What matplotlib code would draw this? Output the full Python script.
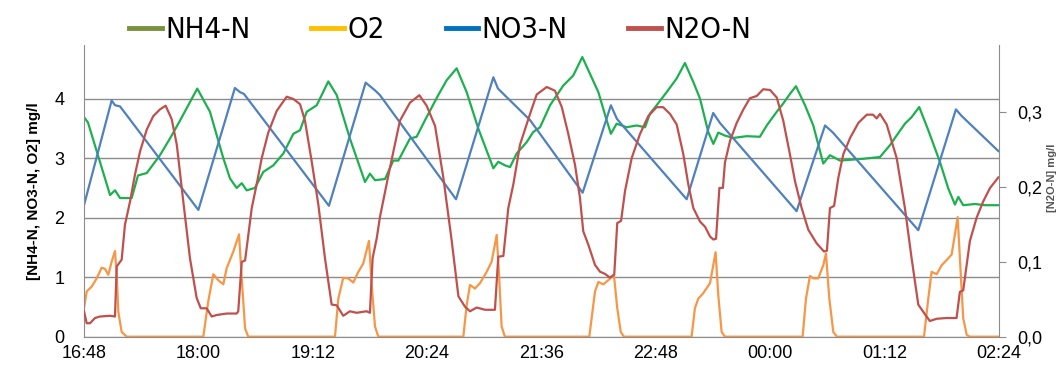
import matplotlib.pyplot as plt
from matplotlib.lines import Line2D
from matplotlib.ticker import FixedLocator

# time axis: minutes after 16:48
tick_minutes = [0, 72, 144, 216, 288, 360, 432, 504, 576]
tick_labels = ["16:48", "18:00", "19:12", "20:24", "21:36", "22:48", "00:00", "01:12", "02:24"]

# NO3-N [mg/l]
no3_t = [0, 17.4, 19.5, 22.7, 72, 95, 98.2, 100.7, 154.2, 177.3, 183.2, 186.3, 234.2, 257.7, 260.6,
         280.8, 313.9, 331.7, 335.5, 341.6, 379.4, 396.1, 400.4, 448.6, 466.5, 471.5, 525.2, 548.9,
         552.5, 575.6]
no3 = [2.21, 3.97, 3.89, 3.87, 2.13, 4.18, 4.11, 4.08, 2.20, 4.27, 4.14, 4.06, 2.31, 4.36, 4.17,
       3.64, 2.42, 3.89, 3.66, 3.47, 2.31, 3.76, 3.59, 2.11, 3.55, 3.43, 1.79, 3.82,
       3.71, 3.12]

# NH4-N [mg/l]
nh4_t = [0, 2.5, 16.4, 19.5, 22.7, 30, 34, 39.5, 47.8, 54.1, 60.4, 71.3, 79.3, 87.7, 91.9, 96.1,
         99.3, 102.4, 107.6, 112.9, 119.2, 125.5, 131.8, 136, 140.2, 146.5, 153.8, 159.1, 167.4,
         176.9, 180, 183.2, 189.5, 194.7, 197.9, 205.2, 209.4, 214.7, 223, 228.3, 234.6, 240.9,
         248.2, 257.7, 260.8, 265, 268.2, 272.4, 278.7, 282.8, 287.1, 293.4, 301.7, 308, 313.7,
         318.5, 323.8, 329, 331.7, 335.3, 341.6, 347.9, 353.2, 356.3, 360.5, 366.8, 373.1, 378.3,
         383.6, 387.8, 393, 396.2, 399.3, 403.5, 408.7, 417.2, 425.5, 429.8, 436.1, 440.2, 444.4,
         448.2, 453.9, 459.1, 465.4, 469.6, 475.9, 490.6, 501.1, 507.4, 510.5, 516.8, 521, 525.8,
         531.5, 538.8, 544.1, 548.3, 550.4, 553.5, 560.9, 567.2, 575.6]
nh4 = [3.69, 3.60, 2.38, 2.46, 2.33, 2.33, 2.71, 2.75, 3.05, 3.33, 3.63, 4.17, 3.78, 3.00, 2.66, 2.50,
       2.58, 2.46, 2.50, 2.77, 2.88, 3.08, 3.41, 3.47, 3.78, 3.89, 4.29, 4.06, 3.33,
       2.60, 2.74, 2.63, 2.65, 2.96, 2.96, 3.33, 3.36, 3.64, 4.06, 4.31, 4.51, 4.11,
       3.50, 2.83, 2.94, 2.88, 2.85, 3.08, 3.27, 3.44, 3.52, 3.89, 4.22, 4.39, 4.70,
       4.42, 4.11, 3.64, 3.41, 3.58, 3.52, 3.55, 3.52, 3.75, 3.89, 4.11, 4.34, 4.60,
       4.28, 4.00, 3.44, 3.24, 3.43, 3.38, 3.34, 3.37, 3.36, 3.55, 3.78, 3.92, 4.08,
       4.21, 3.89, 3.55, 2.91, 3.05, 2.96, 2.99, 3.02, 3.22, 3.34, 3.58, 3.69, 3.86,
       3.47, 2.94, 2.49, 2.22, 2.35, 2.21, 2.23, 2.21, 2.21]

# O2 [mg/l]
o2_t = [0, 1.7, 4.8, 8, 11.1, 13.2, 15.3, 17.4, 19.5, 20.6, 21.6, 23.7, 26.9,
        75.1, 78.2, 81.4, 84.5, 87.7, 89.8, 94, 97.6, 99.3, 101.4, 103.4,
        158, 160.1, 163.2, 166.4, 169.5, 172.7, 175.8, 179.4, 181.1, 183.2, 185.3,
        238.8, 240.9, 243, 246.1, 249.3, 253.5, 256.6, 259.8, 261.4, 262.9, 265,
        318.1, 321.7, 323.8, 326.9, 330.1, 333.6, 335.7, 337.9, 339.9,
        382.5, 384.6, 386.7, 389.8, 394.1, 397.6, 399.3, 401.4, 403.5,
        452.4, 454.5, 457, 459.1, 462.2, 465.4, 467.1, 469.2, 471.7, 474,
        528.8, 531.5, 533.6, 536.8, 539.9, 543.1, 546.2, 550, 551.4, 553.5, 555.7, 557.7, 575.6]
o2 = [0.48, 0.76, 0.84, 0.98, 1.16, 1.14, 1.04, 1.26, 1.44, 1.04, 0.42, 0.08, 0,
      0, 0.59, 1.05, 0.95, 0.88, 1.15, 1.43, 1.72, 0.98, 0.14, 0,
      0, 0.64, 0.99, 0.98, 0.91, 1.09, 1.23, 1.61, 0.87, 0.17, 0,
      0, 0.53, 0.87, 0.81, 0.90, 1.09, 1.26, 1.71, 0.98, 0.17, 0,
      0, 0.76, 0.92, 0.88, 0.95, 1.04, 0.48, 0.08, 0,
      0, 0.48, 0.64, 0.73, 0.90, 1.42, 0.70, 0.08, 0,
      0, 0.64, 1.02, 0.98, 0.98, 1.20, 1.40, 0.64, 0.08, 0,
      0, 0.64, 1.09, 1.05, 1.20, 1.29, 1.38, 2.01, 1.32, 0.31, 0.03, 0, 0]

# N2O-N [mg/l], secondary axis
n2o_t = [0, 1.7, 3.8, 6.9, 10.1, 16.4, 19.5, 20.6, 23.7, 25.8, 29, 32.1, 35.3, 39.5, 43.6, 47.8,
         51.4, 55.2, 58.4, 62.5, 66.7, 70.9, 73.5, 77.2, 80.4, 83.5, 89.8, 96.1, 97.1, 99.3,
         101.4, 105.6, 108.7, 111.9, 116, 121.3, 127.6, 131.8, 136, 139.1, 143.3, 147.5, 151.7,
         155.9, 159.1, 163.2, 167.4, 171.6, 177.9, 180, 181.7, 184.3, 186.3, 192.6, 198.9, 205.2,
         211.1, 215.7, 221, 226.2, 231.5, 235.7, 239.9, 243, 247.2, 252.5, 258.7, 260.8, 264,
         267.1, 270.3, 274.5, 280.8, 285, 291.3, 296.5, 300.8, 304.9, 309.1, 312.2, 314.3, 317.5,
         321.7, 324.8, 328, 331.1, 333.8, 335.7, 338.1, 340.6, 344.8, 350, 355.2, 360.5, 364.6,
         368.9, 373.1, 377.3, 380.4, 383.6, 387.8, 391, 394.1, 396.2, 397.9, 400, 402.2, 403.5,
         406.7, 410.9, 415.1, 419.2, 423.5, 427.6, 431.9, 436.1, 440.2, 444.4, 447.6, 451.8, 456,
         461.2, 465.8, 467.7, 469.6, 472.2, 474.9, 478, 482.3, 487.5, 492.8, 496.7, 499, 501.1,
         505.3, 511.6, 516.8, 521, 525.2, 529.4, 532.5, 536.8, 543.1, 549.3, 551.4, 553.5, 557.7,
         561.9, 566.1, 570.4, 575.6]
n2o = [0.034, 0.018, 0.018, 0.025, 0.027, 0.028, 0.027, 0.094, 0.103, 0.150, 0.181, 0.217, 0.248,
       0.277, 0.295, 0.304, 0.309, 0.291, 0.257, 0.181, 0.105, 0.052, 0.038, 0.038, 0.027, 0.029,
       0.031, 0.031, 0.034, 0.100, 0.102, 0.172, 0.204, 0.239, 0.273, 0.302, 0.321, 0.318, 0.311,
       0.289, 0.235, 0.177, 0.105, 0.043, 0.042, 0.028, 0.034, 0.032, 0.034, 0.032, 0.105, 0.132,
       0.160, 0.226, 0.289, 0.313, 0.323, 0.309, 0.282, 0.213, 0.128, 0.054, 0.040, 0.034, 0.039,
       0.036, 0.036, 0.107, 0.108, 0.172, 0.204, 0.257, 0.298, 0.324, 0.334, 0.329, 0.307, 0.271,
       0.230, 0.186, 0.141, 0.123, 0.096, 0.087, 0.084, 0.079, 0.083, 0.152, 0.155, 0.195, 0.239,
       0.271, 0.295, 0.307, 0.307, 0.298, 0.284, 0.244, 0.204, 0.172, 0.154, 0.147, 0.134, 0.130,
       0.131, 0.199, 0.199, 0.233, 0.262, 0.286, 0.304, 0.319, 0.322, 0.331, 0.330, 0.320, 0.289,
       0.244, 0.208, 0.172, 0.143, 0.125, 0.114, 0.115, 0.172, 0.175, 0.213, 0.244, 0.266, 0.286,
       0.297, 0.297, 0.292, 0.298, 0.284, 0.239, 0.172, 0.105, 0.043, 0.030, 0.021, 0.024, 0.025,
       0.025, 0.060, 0.062, 0.128, 0.159, 0.181, 0.199, 0.213]

plt.rcParams['font.family'] = ['Liberation Sans', 'DejaVu Sans']

fig = plt.figure(figsize=(10.58, 3.70), dpi=100)
ax = fig.add_axes([0.0794, 0.09, 0.8648, 0.788])
ax2 = ax.twinx()

lw = 1.6
ax.plot(nh4_t, nh4, color='#1db04f', lw=lw)
ax.plot(o2_t, o2, color='#f79646', lw=lw)
ax.plot(no3_t, no3, color='#4f81bd', lw=lw)
ax2.plot(n2o_t, n2o, color='#c0504d', lw=lw)

ax.set_xlim(0, 576)
ax.set_ylim(0, 4.9)
ax2.set_ylim(0, 0.39)

ax.set_xticks(tick_minutes)
ax.set_xticklabels(tick_labels)
ax.set_yticks([0, 1, 2, 3, 4])
ax.yaxis.grid(True, color='#8c8c8c', lw=1)
ax.set_axisbelow(True)
ax.tick_params(axis='both', length=0, labelsize=13, pad=6)
ax.tick_params(axis='y', pad=14)

ax2.yaxis.set_major_locator(FixedLocator([0, 0.1, 0.2, 0.3]))
ax2.set_yticklabels(["0,0", "0,1", "0,2", "0,3"])
ax2.tick_params(axis='y', length=5, color='#8c8c8c', labelsize=13, pad=8)

for a in (ax, ax2):
    a.spines['top'].set_visible(False)
    for s in ('left', 'right', 'bottom'):
        a.spines[s].set_color('#8c8c8c')
ax.spines['right'].set_visible(False)
ax2.spines['left'].set_visible(False)
ax2.spines['bottom'].set_visible(False)

ax.set_ylabel("[NH4-N, NO3-N, O2] mg/l", fontsize=11, fontweight='bold', labelpad=10)
# secondary axis title, mostly hidden at the right edge in the source
fig.text(0.999, 0.52, "[N2O-N] mg/l", rotation=90, fontsize=8, fontweight='bold',
         color='#555555', ha='right', va='center')

handles = [Line2D([], [], color='#77933c', lw=3.5),
           Line2D([], [], color='#ffc000', lw=3.5),
           Line2D([], [], color='#0070c0', lw=3.5),
           Line2D([], [], color='#c0504d', lw=3.5)]
fig.legend(handles, ["NH4-N", "O2", "NO3-N", "N2O-N"], loc='center', ncol=4,
           bbox_to_anchor=(0.416, 0.918), frameon=False,
           handlelength=1.1, handletextpad=0.12, columnspacing=2.1,
           prop={'family': 'DejaVu Sans', 'stretch': 'condensed', 'size': 21})

fig.savefig('out.png', dpi=100)
